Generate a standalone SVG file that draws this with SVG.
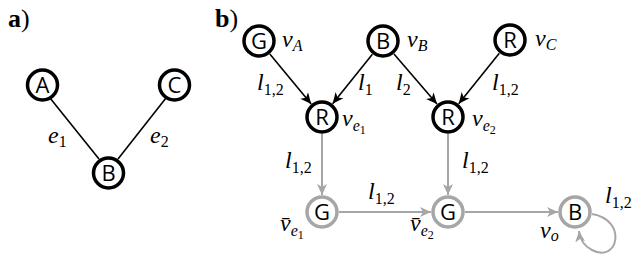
<svg xmlns="http://www.w3.org/2000/svg" width="639" height="262" viewBox="0 0 639 262">
<style>
.node{fill:#fff;stroke:#000;stroke-width:3.5}
.gnode{fill:#fff;stroke:#a6a6a6;stroke-width:3.5}
.lbl{font-family:"Open Sans","Noto Sans",sans-serif;font-size:22px;text-anchor:middle;fill:#000}
.m{font-family:"Liberation Serif","DejaVu Serif",serif;font-style:italic;font-size:24px;fill:#000}
.s{font-size:16px}
.n{font-style:normal}
.e{fill:none;stroke:#000;stroke-width:1.6}
.ge{fill:none;stroke:#a6a6a6;stroke-width:2}
.p{font-family:"Liberation Serif",serif;font-size:26px;fill:#000}
</style>
<defs>
<marker id="ab" markerUnits="userSpaceOnUse" markerWidth="12" markerHeight="12" viewBox="0 0 12 12" refX="11" refY="6" orient="auto"><path d="M0,1 L11,6 L0,11 L3,6 Z" fill="#000"/></marker>
<marker id="ag" markerUnits="userSpaceOnUse" markerWidth="12" markerHeight="12" viewBox="0 0 12 12" refX="11" refY="6" orient="auto"><path d="M0,1 L11,6 L0,11 L3,6 Z" fill="#a6a6a6"/></marker>
</defs>
<text class="p" x="8" y="27"><tspan font-weight="bold">a</tspan>)</text>
<text class="p" x="215" y="27"><tspan font-weight="bold">b</tspan>)</text>
<g id="connectors">
<line class="e" x1="50" y1="98" x2="99" y2="159"/>
<line class="e" x1="166" y1="98" x2="118" y2="159"/>
<line class="e" x1="269.8" y1="54.1" x2="311.2" y2="103.9" marker-end="url(#ab)"/>
<line class="e" x1="372.4" y1="54.3" x2="332.6" y2="103.7" marker-end="url(#ab)"/>
<line class="e" x1="394" y1="54" x2="437" y2="104" marker-end="url(#ab)"/>
<line class="e" x1="499.3" y1="53.2" x2="458.7" y2="103.8" marker-end="url(#ab)"/>
<line class="ge" x1="322" y1="134" x2="322" y2="195" marker-end="url(#ag)"/>
<line class="ge" x1="448" y1="134" x2="448" y2="195" marker-end="url(#ag)"/>
<line class="ge" x1="339" y1="212" x2="431" y2="212" marker-end="url(#ag)"/>
<line class="ge" x1="465" y1="212" x2="558" y2="212" marker-end="url(#ag)"/>
<path class="ge" d="M592,214 C628,220 618,264 592,250 C584,246 580,240 579,231" marker-end="url(#ag)"/>
</g>
<g id="a_A"><circle class="node" cx="42.5" cy="85" r="15"/><text class="lbl" x="42.5" y="93">A</text></g>
<g id="a_C"><circle class="node" cx="174.5" cy="85" r="15"/><text class="lbl" x="174.5" y="93">C</text></g>
<g id="a_B"><circle class="node" cx="108.5" cy="173" r="15"/><text class="lbl" x="108.5" y="181">B</text></g>
<text class="m" x="48" y="143">e<tspan class="s n" dy="4">1</tspan></text>
<text class="m" x="150" y="143">e<tspan class="s n" dy="4">2</tspan></text>
<g id="vA"><circle class="node" cx="259" cy="41" r="15"/><text class="lbl" x="259" y="49">G</text></g>
<g id="vB"><circle class="node" cx="383" cy="41" r="15"/><text class="lbl" x="383" y="49">B</text></g>
<g id="vC"><circle class="node" cx="510" cy="40" r="15"/><text class="lbl" x="510" y="48">R</text></g>
<g id="ve1"><circle class="node" cx="322" cy="117" r="15"/><text class="lbl" x="322" y="125">R</text></g>
<g id="ve2"><circle class="node" cx="448" cy="117" r="15"/><text class="lbl" x="448" y="125">R</text></g>
<g id="vbe1"><circle class="gnode" cx="322" cy="212" r="15"/><text class="lbl" x="322" y="220">G</text></g>
<g id="vbe2"><circle class="gnode" cx="448" cy="212" r="15"/><text class="lbl" x="448" y="220">G</text></g>
<g id="vo"><circle class="gnode" cx="575" cy="212" r="15"/><text class="lbl" x="575" y="220">B</text></g>
<text class="m" x="282" y="47">v<tspan class="s" dy="4">A</tspan></text>
<text class="m" x="407" y="47">v<tspan class="s" dy="4">B</tspan></text>
<text class="m" x="535" y="46">v<tspan class="s" dy="4">C</tspan></text>
<text class="m" x="342" y="126">v<tspan class="s" dy="5">e</tspan><tspan class="n" font-size="12" dy="3">1</tspan></text>
<text class="m" x="472" y="126">v<tspan class="s" dy="5">e</tspan><tspan class="n" font-size="12" dy="3">2</tspan></text>
<text class="m" x="280" y="231">v̄<tspan class="s" dy="5">e</tspan><tspan class="n" font-size="12" dy="3">1</tspan></text>
<text class="m" x="410" y="231">v̄<tspan class="s" dy="5">e</tspan><tspan class="n" font-size="12" dy="3">2</tspan></text>
<text class="m" x="540" y="238">v<tspan class="s" dy="3">o</tspan></text>
<text class="m" x="257" y="90">l<tspan class="s n" dy="5">1,2</tspan></text>
<text class="m" x="358" y="90">l<tspan class="s n" dy="5">1</tspan></text>
<text class="m" x="396" y="90">l<tspan class="s n" dy="5">2</tspan></text>
<text class="m" x="492" y="90">l<tspan class="s n" dy="5">1,2</tspan></text>
<text class="m" x="285" y="168">l<tspan class="s n" dy="5">1,2</tspan></text>
<text class="m" x="462" y="168">l<tspan class="s n" dy="5">1,2</tspan></text>
<text class="m" x="368" y="199">l<tspan class="s n" dy="5">1,2</tspan></text>
<text class="m" x="605" y="203">l<tspan class="s n" dy="5">1,2</tspan></text>
</svg>
